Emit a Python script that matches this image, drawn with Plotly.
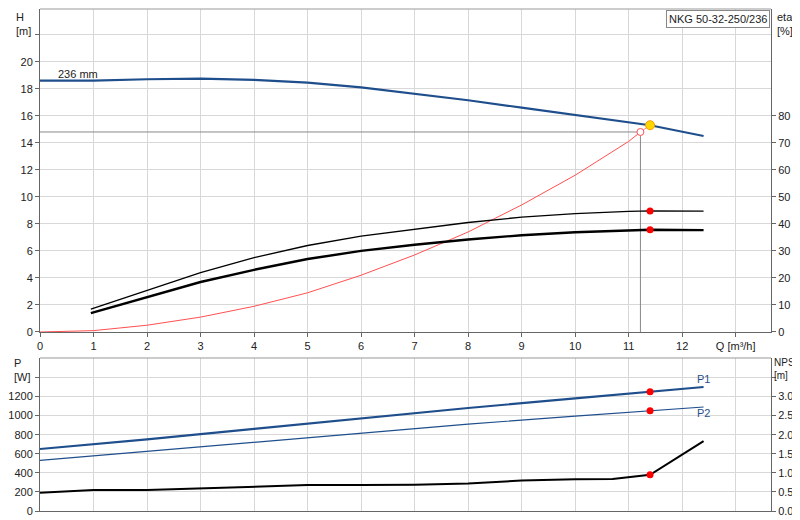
import plotly.graph_objects as go

# head curve (m)
q_h = [0, 1, 2, 3, 4, 5, 6, 7, 8, 9, 10, 11, 11.4, 12.4]
head = [18.6, 18.6, 18.7, 18.75, 18.65, 18.45, 18.1, 17.65, 17.15, 16.6, 16.05, 15.5, 15.3, 14.5]

# efficiency curves (%)
q_eta = [0.95, 2, 3, 4, 5, 6, 7, 8, 9, 10, 11, 11.4, 12.4]
eta_upper = [8.5, 15.5, 22, 27.5, 32, 35.5, 38, 40.5, 42.5, 43.8, 44.6, 44.8, 44.7]
eta_lower = [7, 13, 18.5, 23, 27, 30, 32.3, 34.2, 35.8, 36.9, 37.6, 37.8, 37.7]

# system curve (m)
q_sys = [0, 1, 2, 3, 4, 5, 6, 7, 8, 9, 10, 11, 11.22]
h_sys = [0, 0.1, 0.5, 1.1, 1.9, 2.9, 4.2, 5.7, 7.4, 9.4, 11.6, 14.1, 14.8]

# power (W) and NPSH (m)
q_p = [0, 2, 4, 6, 8, 10, 11.4, 12.4]
p1 = [650, 750, 860, 970, 1080, 1180, 1250, 1300]
p2 = [530, 625, 720, 815, 910, 995, 1050, 1090]
q_npsh = [0, 1, 2, 3, 4, 5, 6, 7, 8, 9, 10, 10.7, 11.4, 12.4]
npsh = [0.48, 0.55, 0.55, 0.6, 0.65, 0.68, 0.68, 0.69, 0.72, 0.8, 0.83, 0.84, 0.95, 1.83]

q_duty = 11.4
q_req, h_req = 11.22, 14.8

blue = "#1f4e8c"
fig = go.Figure()
fig.add_trace(go.Scatter(x=[0, q_req, q_req], y=[h_req, h_req, 0], mode="lines",
                         line=dict(color="#888", width=1)))
fig.add_trace(go.Scatter(x=q_h, y=head, mode="lines", line=dict(color=blue, width=2.2)))
fig.add_trace(go.Scatter(x=q_sys, y=h_sys, mode="lines", line=dict(color="#ff5050", width=1)))
fig.add_trace(go.Scatter(x=[q_req, q_duty], y=[h_req, 15.3], mode="lines",
                         line=dict(color="#ff8080", width=1)))
fig.add_trace(go.Scatter(x=[q_req], y=[h_req], mode="markers",
                         marker=dict(size=7, color="white", line=dict(color="#ff5050", width=1))))
fig.add_trace(go.Scatter(x=[q_duty], y=[15.3], mode="markers",
                         marker=dict(size=9, color="#ffd700", line=dict(color="#ff9900", width=1))))
fig.add_trace(go.Scatter(x=q_eta, y=eta_upper, yaxis="y2", mode="lines", line=dict(color="black", width=1.3)))
fig.add_trace(go.Scatter(x=q_eta, y=eta_lower, yaxis="y2", mode="lines", line=dict(color="black", width=2.4)))
fig.add_trace(go.Scatter(x=[q_duty, q_duty], y=[44.8, 37.8], yaxis="y2", mode="markers",
                         marker=dict(size=7, color="red")))

fig.add_trace(go.Scatter(x=q_p, y=p1, xaxis="x2", yaxis="y3", mode="lines", line=dict(color=blue, width=2.2)))
fig.add_trace(go.Scatter(x=q_p, y=p2, xaxis="x2", yaxis="y3", mode="lines", line=dict(color=blue, width=1.2)))
fig.add_trace(go.Scatter(x=[q_duty, q_duty], y=[1250, 1050], xaxis="x2", yaxis="y3", mode="markers",
                         marker=dict(size=7, color="red")))
fig.add_trace(go.Scatter(x=q_npsh, y=npsh, xaxis="x2", yaxis="y4", mode="lines", line=dict(color="black", width=2)))
fig.add_trace(go.Scatter(x=[q_duty], y=[0.95], xaxis="x2", yaxis="y4", mode="markers",
                         marker=dict(size=7, color="red")))

grid = "#d8d8d8"
ax = dict(showgrid=True, gridcolor=grid, zeroline=False, showline=True, linecolor="#666",
          ticks="outside", ticklen=4, tickcolor="#666", automargin=False)
xvals = list(range(14))
fig.update_layout(
    width=800, height=520, showlegend=False, plot_bgcolor="white", paper_bgcolor="white",
    margin=dict(l=32, r=37, t=1, b=17),
    font=dict(family="Liberation Sans, Arial", size=11, color="#222"),
    xaxis=dict(ax, range=[0, 13.66], domain=[0, 1], anchor="y", tickvals=xvals,
               ticktext=[str(v) for v in range(13)] + ["Q [m³/h]"], mirror=False),
    yaxis=dict(ax, range=[0, 23.9], domain=[0.3566, 1], tickvals=list(range(0, 24, 2)),
               ticktext=[str(v) for v in range(0, 21, 2)] + [""]),
    yaxis2=dict(ax, range=[0, 119.5], overlaying="y", side="right", showgrid=False,
                tickvals=list(range(0, 81, 10))),
    xaxis2=dict(ax, range=[0, 13.66], domain=[0, 1], anchor="y3", tickvals=xvals, showticklabels=False,
                ticks=""),
    yaxis3=dict(ax, range=[0, 1604], domain=[0, 0.3048], tickvals=list(range(0, 1401, 200)),
                ticktext=[str(v) for v in range(0, 1201, 200)] + [""]),
    yaxis4=dict(ax, range=[0, 4.01], overlaying="y3", side="right", showgrid=False,
                tickvals=[0, 0.5, 1, 1.5, 2, 2.5, 3, 3.5],
                ticktext=["0.0", "0.5", "1.0", "1.5", "2.0", "2.5", "3.0", ""]),
)
# frame lines at top of each plot
fig.add_shape(type="line", xref="paper", yref="paper", x0=0, x1=1, y0=1, y1=1, line=dict(color="#999", width=1))
fig.add_shape(type="line", xref="paper", yref="paper", x0=0, x1=1, y0=0.3048, y1=0.3048, line=dict(color="#999", width=1))

ann = [
    dict(x=-0.01, y=1.0, text="H<br>[m]", xanchor="right", yanchor="top"),
    dict(x=1.005, y=1.0, text="eta<br>[%]", xanchor="left", yanchor="top"),
    dict(x=-0.01, y=0.31, text="P<br>[W]", xanchor="right", yanchor="top"),
    dict(x=1.002, y=0.31, text="NPSH<br>[m]", xanchor="left", yanchor="top", font=dict(size=10)),
]
for a in ann:
    fig.add_annotation(xref="paper", yref="paper", showarrow=False, align="left", **a)
fig.add_annotation(x=0.3, y=19.1, text="236 mm", showarrow=False, xanchor="left")
fig.add_annotation(x=12.4, y=1385, xref="x2", yref="y3", text="P1", showarrow=False,
                   font=dict(color=blue))
fig.add_annotation(x=12.4, y=1030, xref="x2", yref="y3", text="P2", showarrow=False,
                   font=dict(color=blue))
fig.add_annotation(xref="paper", yref="paper", x=0.999, y=0.998, xanchor="right", yanchor="top",
                   text="NKG 50-32-250/236", showarrow=False, bgcolor="white",
                   bordercolor="#888", borderwidth=1, borderpad=2)

fig.write_html("out.html")
